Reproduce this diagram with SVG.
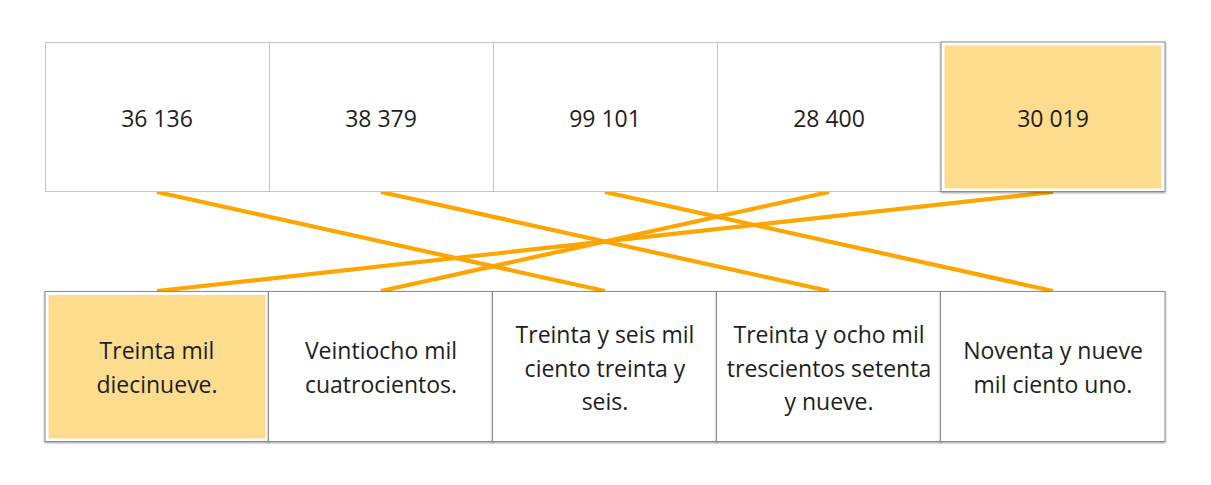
<svg xmlns="http://www.w3.org/2000/svg" width="1211" height="485" viewBox="0 0 1211 485">
<defs>
<filter id="sh" x="-10%" y="-10%" width="120%" height="120%">
<feDropShadow dx="0" dy="1" stdDeviation="1.3" flood-color="#000" flood-opacity="0.4"/>
</filter>
<style>
.top{fill:#fff;stroke:#c4c4c4;stroke-width:1}
.bot{fill:#fff;stroke:#8c8c8c;stroke-width:1}
.hl{fill:#fddc8e}
.t{font-family:"Open Sans","Noto Sans",sans-serif;font-size:23px;fill:#1e1e1e;text-anchor:middle}
.c{stroke:#ffa500;stroke-width:4.2;fill:none}
</style>
</defs>
<rect width="1211" height="485" fill="#fff"/>
<g id="connectors">
<line class="c" x1="157" y1="192" x2="605" y2="291"/>
<line class="c" x1="381" y1="192" x2="829" y2="291"/>
<line class="c" x1="605" y1="192" x2="1053" y2="291"/>
<line class="c" x1="829" y1="192" x2="381" y2="291"/>
<line class="c" x1="1053" y1="192" x2="157" y2="291"/>
</g>
<g id="top1"><rect class="top" x="45.5" y="42.5" width="224" height="149"/><text class="t" x="157" y="127">36 136</text></g>
<g id="top2"><rect class="top" x="269.5" y="42.5" width="224" height="149"/><text class="t" x="381" y="127">38 379</text></g>
<g id="top3"><rect class="top" x="493.5" y="42.5" width="224" height="149"/><text class="t" x="605" y="127">99 101</text></g>
<g id="top4"><rect class="top" x="717.5" y="42.5" width="224" height="149"/><text class="t" x="829" y="127">28 400</text></g>
<g id="top5"><rect class="bot" x="941" y="42" width="224" height="149.5" filter="url(#sh)"/><rect class="hl" x="944.5" y="45.5" width="217" height="143"/><text class="t" x="1053" y="127">30 019</text></g>
<g id="bot1"><rect class="bot" x="45" y="291.5" width="223.5" height="150" filter="url(#sh)"/><rect class="hl" x="48.5" y="295" width="217" height="143.5"/><text class="t" x="157" y="359">Treinta mil</text><text class="t" x="157" y="393">diecinueve.</text></g>
<g id="bot2"><rect class="bot" x="268.5" y="291.5" width="224" height="150" filter="url(#sh)"/><text class="t" x="381" y="359">Veintiocho mil</text><text class="t" x="381" y="393">cuatrocientos.</text></g>
<g id="bot3"><rect class="bot" x="492.5" y="291.5" width="224" height="150" filter="url(#sh)"/><text class="t" x="605" y="343">Treinta y seis mil</text><text class="t" x="605" y="377">ciento treinta y</text><text class="t" x="605" y="410">seis.</text></g>
<g id="bot4"><rect class="bot" x="716.5" y="291.5" width="224" height="150" filter="url(#sh)"/><text class="t" x="829" y="343">Treinta y ocho mil</text><text class="t" x="829" y="377">trescientos setenta</text><text class="t" x="829" y="410">y nueve.</text></g>
<g id="bot5"><rect class="bot" x="940.5" y="291.5" width="224.5" height="150" filter="url(#sh)"/><text class="t" x="1053" y="359">Noventa y nueve</text><text class="t" x="1053" y="393">mil ciento uno.</text></g>
</svg>
